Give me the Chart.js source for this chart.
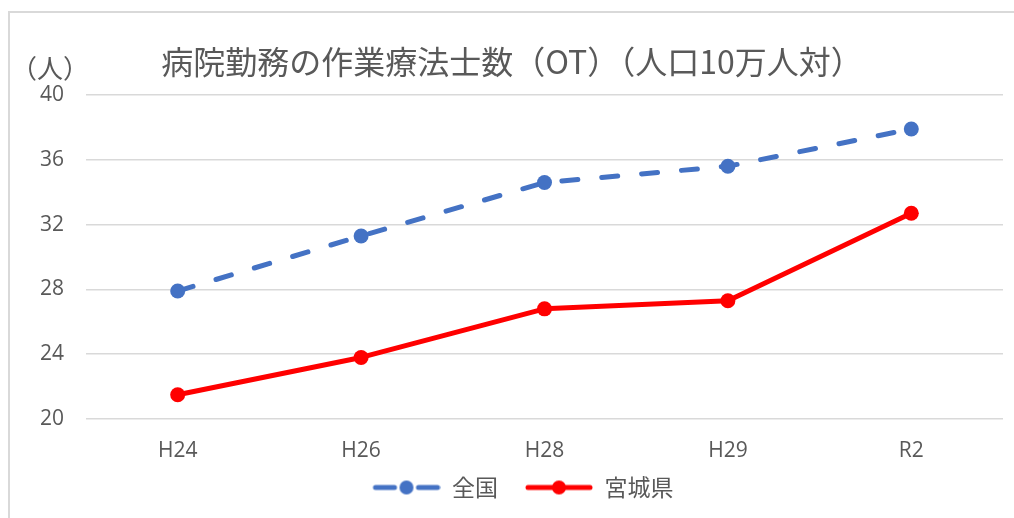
<!DOCTYPE html>
<html>
<head>
<meta charset="utf-8">
<script src="https://cdn.jsdelivr.net/npm/chart.js@4.4.1/dist/chart.umd.min.js"></script>
<style>
  html, body { margin: 0; padding: 0; background: #fff; }
  #wrap { width: 1014px; height: 518px; position: relative; }
</style>
</head>
<body>
<div id="wrap"><canvas id="c"></canvas></div>
<script>
// data
const years = ['H24', 'H26', 'H28', 'H29', 'R2'];
const zenkoku = [27.9, 31.3, 34.6, 35.6, 37.9];   // 全国
const miyagi = [21.5, 23.8, 26.8, 27.3, 32.7];    // 宮城県
const yMin = 20, yMax = 40, yStep = 4;

const BLUE = '#4472C4';
const RED = '#FF0000';
const GREY = '#595959';
const JP = '"Noto Sans CJK JP", "Noto Sans", sans-serif';
const LAT = '"Open Sans", "Noto Sans", sans-serif';

// little legend pictures: line with a dot in the middle (blank margin on the left = gap between items)
const ICON_GAP = 15;
function legendIcon(color, dashed) {
  const cv = document.createElement('canvas');
  cv.width = 68 + ICON_GAP; cv.height = 16;
  const g = cv.getContext('2d');
  g.translate(ICON_GAP, 0);
  g.strokeStyle = color;
  g.fillStyle = color;
  g.lineWidth = 5;
  g.lineCap = 'round';
  g.beginPath();
  if (dashed) {
    g.moveTo(3, 8); g.lineTo(22, 8);
    g.moveTo(46, 8); g.lineTo(65, 8);
  } else {
    g.moveTo(3, 8); g.lineTo(65, 8);
  }
  g.stroke();
  g.beginPath();
  g.arc(34, 8, 7, 0, Math.PI * 2);
  g.fill();
  return cv;
}

// title, unit label and the outer frame
const decor = {
  id: 'decor',
  afterLayout(chart) {
    // legend sits a bit right of centre in the original
    chart.legend.left += 14;
    chart.legend.right += 14;
  },
  beforeDraw(chart) {
    const ctx = chart.ctx;
    ctx.save();
    ctx.fillStyle = '#fff';
    ctx.fillRect(0, 0, chart.width, chart.height);
    ctx.strokeStyle = '#d9d9d9';
    ctx.lineWidth = 2;
    ctx.beginPath();
    ctx.moveTo(9, chart.height);
    ctx.lineTo(9, 12);
    ctx.lineTo(chart.width, 12);
    ctx.stroke();
    ctx.restore();
  },
  afterDraw(chart) {
    const ctx = chart.ctx;
    ctx.save();
    ctx.fillStyle = GREY;
    ctx.textAlign = 'center';
    ctx.textBaseline = 'middle';
    ctx.font = '32px ' + JP;
    ctx.fillText('病院勤務の作業療法士数（OT）（人口10万人対）', 512, 62);
    ctx.font = '26px ' + JP;
    ctx.fillText('（人）', 50, 68);
    ctx.restore();
  }
};

new Chart(document.getElementById('c'), {
  type: 'line',
  data: {
    labels: years,
    datasets: [
      {
        label: '全国',
        data: zenkoku,
        borderColor: BLUE,
        backgroundColor: BLUE,
        borderWidth: 5,
        borderDash: [16, 24],
        borderCapStyle: 'round',
        pointStyle: legendIcon(BLUE, true),
        pointRadius: 0,
        tension: 0
      },
      {
        label: '宮城県',
        data: miyagi,
        borderColor: RED,
        backgroundColor: RED,
        borderWidth: 5,
        borderCapStyle: 'round',
        borderJoinStyle: 'round',
        pointStyle: legendIcon(RED, false),
        pointRadius: 0,
        tension: 0
      }
    ]
  },
  options: {
    responsive: true,
    maintainAspectRatio: false,
    animation: false,
    events: [],
    layout: { padding: { top: 95, right: 11, left: 0, bottom: 9 } },
    scales: {
      x: {
        offset: true,
        grid: { display: false },
        border: { display: false },
        ticks: { color: GREY, font: { family: LAT, size: 21 }, padding: 11 },
        afterFit(s) { s.height = 45; }
      },
      y: {
        min: yMin,
        max: yMax,
        grid: { color: '#d9d9d9', lineWidth: 1.5, drawTicks: false },
        border: { display: false },
        ticks: { stepSize: yStep, color: GREY, font: { family: LAT, size: 21 }, padding: 22 },
        afterFit(s) { s.width = 86; }
      }
    },
    plugins: {
      title: { display: false },
      tooltip: { enabled: false },
      legend: {
        position: 'bottom',
        labels: {
          usePointStyle: true,
          pointStyleWidth: 68 + ICON_GAP,
          boxHeight: 16,
          color: GREY,
          font: { family: JP, size: 23 },
          padding: 12
        }
      }
    }
  },
  plugins: [decor, {
    // markers drawn on top of the lines, at the library's scale positions
    id: 'markers',
    afterDatasetsDraw(chart) {
      const ctx = chart.ctx;
      chart.data.datasets.forEach((ds, i) => {
        chart.getDatasetMeta(i).data.forEach(pt => {
          ctx.save();
          ctx.fillStyle = ds.borderColor;
          ctx.beginPath();
          ctx.arc(pt.x, pt.y, 7.5, 0, Math.PI * 2);
          ctx.fill();
          ctx.restore();
        });
      });
    }
  }]
});
</script>
</body>
</html>
